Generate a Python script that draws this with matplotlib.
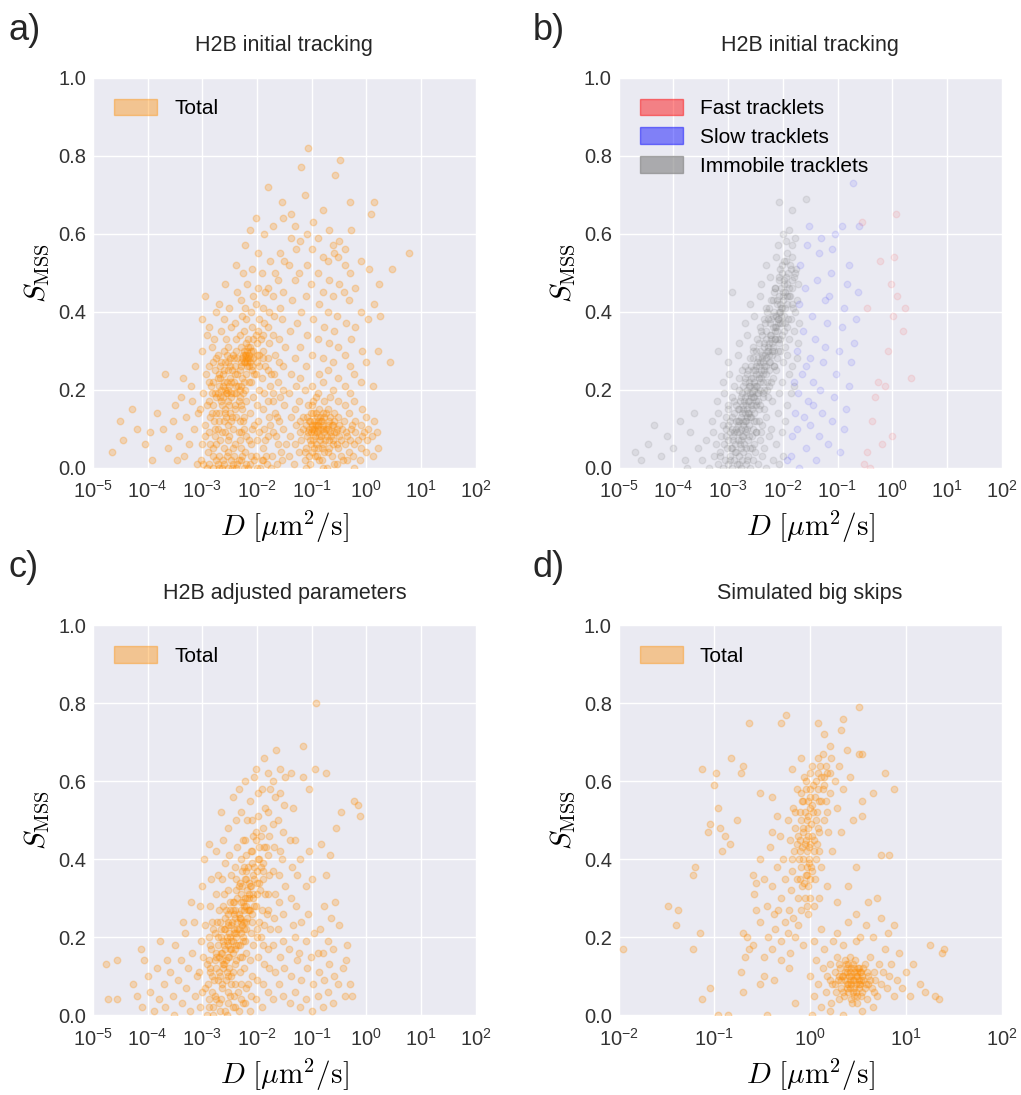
import matplotlib
matplotlib.use("Agg")
import numpy as np
import matplotlib.pyplot as plt
import matplotlib.patches as mpatches
from matplotlib.ticker import FixedLocator, FuncFormatter, NullLocator


# a) H2B initial tracking: (D [um^2/s], S_MSS)
a_total = [
    # left tail
    (2.2e-5, 0.04), (3.1e-5, 0.12), (3.6e-5, 0.07), (5.2e-5, 0.15), (6.3e-5, 0.10), (8.8e-5, 0.06),
    (1.2e-4, 0.02), (1.5e-4, 0.14), (1.9e-4, 0.10), (2.4e-4, 0.05), (2.1e-4, 0.24), (2.9e-4, 0.12),
    (3.4e-4, 0.02), (4.1e-4, 0.18), (3.8e-4, 0.08), (5.1e-4, 0.13), (4.7e-4, 0.03), (6.2e-4, 0.21),
    (5.8e-4, 0.06), (7.1e-4, 0.10), (6.6e-4, 0.17), (7.9e-4, 0.01), (8.4e-4, 0.14), (4.4e-4, 0.23),
    (3.2e-4, 0.16), (1.1e-4, 0.09), (7.5e-4, 0.26),
    # slow cluster
    (9.5e-4, 0.02), (1.0e-3, 0.06), (1.1e-3, 0.11), (9.2e-4, 0.15), (1.05e-3, 0.19), (1.15e-3, 0.24),
    (9.8e-4, 0.30), (1.2e-3, 0.34), (1.0e-3, 0.38), (1.1e-3, 0.44),
    (1.3e-3, 0.01), (1.25e-3, 0.04), (1.35e-3, 0.09), (1.4e-3, 0.13), (1.3e-3, 0.17), (1.45e-3, 0.21),
    (1.35e-3, 0.26), (1.5e-3, 0.31), (1.3e-3, 0.36),
    (1.6e-3, 0.00), (1.55e-3, 0.05), (1.7e-3, 0.08), (1.65e-3, 0.12), (1.6e-3, 0.16), (1.75e-3, 0.18),
    (1.6e-3, 0.22), (1.7e-3, 0.25), (1.8e-3, 0.28), (1.65e-3, 0.33), (1.75e-3, 0.40),
    (1.9e-3, 0.01), (2.0e-3, 0.03), (2.1e-3, 0.07), (1.95e-3, 0.10), (2.05e-3, 0.14), (2.2e-3, 0.17),
    (1.9e-3, 0.19), (2.0e-3, 0.21), (2.15e-3, 0.23), (2.1e-3, 0.26), (1.95e-3, 0.29), (2.2e-3, 0.35),
    (2.0e-3, 0.42),
    (2.4e-3, 0.02), (2.5e-3, 0.05), (2.6e-3, 0.09), (2.45e-3, 0.12), (2.55e-3, 0.15), (2.4e-3, 0.18),
    (2.65e-3, 0.20), (2.5e-3, 0.22), (2.35e-3, 0.24), (2.6e-3, 0.27), (2.5e-3, 0.30), (2.7e-3, 0.33),
    (2.45e-3, 0.38), (2.6e-3, 0.47),
    (2.9e-3, 0.00), (3.0e-3, 0.04), (3.1e-3, 0.08), (2.95e-3, 0.11), (3.2e-3, 0.14), (3.0e-3, 0.17),
    (2.85e-3, 0.19), (3.1e-3, 0.21), (3.25e-3, 0.23), (3.0e-3, 0.25), (3.15e-3, 0.28), (2.9e-3, 0.31),
    (3.3e-3, 0.36), (3.05e-3, 0.41),
    (3.6e-3, 0.01), (3.8e-3, 0.03), (4.0e-3, 0.06), (3.7e-3, 0.10), (4.2e-3, 0.13), (3.9e-3, 0.16),
    (4.1e-3, 0.19), (3.75e-3, 0.22), (4.3e-3, 0.24), (4.0e-3, 0.26), (3.85e-3, 0.28), (4.2e-3, 0.30),
    (4.05e-3, 0.33), (3.9e-3, 0.37), (4.4e-3, 0.45), (4.1e-3, 0.52),
    (4.7e-3, 0.02), (5.0e-3, 0.05), (5.2e-3, 0.09), (4.8e-3, 0.12), (5.3e-3, 0.15), (4.9e-3, 0.18),
    (5.1e-3, 0.21), (5.4e-3, 0.23), (4.8e-3, 0.25), (5.0e-3, 0.27), (5.5e-3, 0.29), (5.2e-3, 0.31),
    (4.9e-3, 0.34), (5.3e-3, 0.39), (5.0e-3, 0.43), (5.6e-3, 0.50),
    (5.8e-3, 0.00), (6.0e-3, 0.04), (6.3e-3, 0.08), (5.9e-3, 0.13), (6.4e-3, 0.17), (6.1e-3, 0.20),
    (5.8e-3, 0.22), (6.5e-3, 0.26), (6.2e-3, 0.28), (6.0e-3, 0.29), (6.6e-3, 0.30), (6.3e-3, 0.32),
    (5.9e-3, 0.35), (6.4e-3, 0.38), (6.1e-3, 0.41), (6.5e-3, 0.47), (6.0e-3, 0.57),
    (7.3e-3, 0.01), (7.8e-3, 0.06), (8.2e-3, 0.10), (7.5e-3, 0.14), (8.4e-3, 0.18), (7.9e-3, 0.22),
    (8.1e-3, 0.25), (7.6e-3, 0.27), (8.3e-3, 0.28), (7.8e-3, 0.30), (8.6e-3, 0.33), (8.0e-3, 0.36),
    (7.7e-3, 0.40), (8.5e-3, 0.44), (8.1e-3, 0.51), (7.4e-3, 0.61),
    (9.5e-3, 0.03), (1.0e-2, 0.07), (1.05e-2, 0.12), (9.8e-3, 0.16), (1.1e-2, 0.20), (9.6e-3, 0.24),
    (1.02e-2, 0.27), (1.08e-2, 0.29), (9.9e-3, 0.32), (1.04e-2, 0.35), (1.1e-2, 0.38), (9.7e-3, 0.42),
    (1.03e-2, 0.46), (1.06e-2, 0.55), (9.4e-3, 0.64),
    (1.25e-2, 0.02), (1.3e-2, 0.05), (1.35e-2, 0.10), (1.28e-2, 0.15), (1.32e-2, 0.19), (1.24e-2, 0.23),
    (1.38e-2, 0.26), (1.3e-2, 0.30), (1.27e-2, 0.34), (1.36e-2, 0.37), (1.31e-2, 0.41), (1.4e-2, 0.45),
    (1.26e-2, 0.50), (1.33e-2, 0.60),
    (1.55e-2, 0.01), (1.6e-2, 0.08), (1.65e-2, 0.13), (1.58e-2, 0.17), (1.7e-2, 0.21), (1.62e-2, 0.25),
    (1.56e-2, 0.28), (1.68e-2, 0.32), (1.6e-2, 0.36), (1.66e-2, 0.40), (1.59e-2, 0.46), (1.7e-2, 0.53),
    (1.6e-2, 0.72),
    (1.9e-2, 0.03), (2.0e-2, 0.09), (2.1e-2, 0.14), (1.95e-2, 0.19), (2.05e-2, 0.24), (2.15e-2, 0.29),
    (1.98e-2, 0.34), (2.08e-2, 0.39), (2.0e-2, 0.44), (2.12e-2, 0.50), (1.96e-2, 0.62),
    (2.4e-2, 0.06), (2.5e-2, 0.12), (2.6e-2, 0.18), (2.45e-2, 0.22), (2.55e-2, 0.27), (2.5e-2, 0.33),
    (2.65e-2, 0.41), (2.4e-2, 0.48), (2.58e-2, 0.55),
    (2.9e-2, 0.02), (3.0e-2, 0.10), (3.1e-2, 0.16), (2.95e-2, 0.20), (3.05e-2, 0.26), (3.2e-2, 0.31),
    (2.9e-2, 0.38), (3.0e-2, 0.45), (3.15e-2, 0.53), (3.0e-2, 0.64), (2.85e-2, 0.68),
    (2.2e-3, 0.20), (2.8e-3, 0.22), (3.4e-3, 0.19), (4.5e-3, 0.21), (5.7e-3, 0.27), (7.0e-3, 0.29),
    (6.8e-3, 0.28), (7.2e-3, 0.26), (6.9e-3, 0.31), (3.5e-3, 0.25), (2.3e-3, 0.16), (1.8e-3, 0.14),
    (1.5e-3, 0.19), (2.7e-3, 0.13), (3.3e-3, 0.12), (4.6e-3, 0.17), (5.5e-3, 0.19), (2.0e-3, 0.24),
    (2.9e-3, 0.27), (1.7e-3, 0.10),
    (1.2e-3, 0.00), (1.8e-3, 0.02), (2.3e-3, 0.00), (2.8e-3, 0.03), (3.5e-3, 0.00), (4.4e-3, 0.01),
    (5.4e-3, 0.03), (6.8e-3, 0.00), (8.8e-3, 0.02), (1.15e-2, 0.00), (1.45e-2, 0.03), (1.8e-2, 0.00),
    (2.3e-2, 0.01),
    (1.1e-3, 0.08), (1.2e-3, 0.16), (1.3e-3, 0.22), (1.4e-3, 0.06), (1.5e-3, 0.14), (1.6e-3, 0.27),
    (1.7e-3, 0.19), (1.8e-3, 0.06), (1.9e-3, 0.23), (2.0e-3, 0.12), (2.1e-3, 0.18), (2.2e-3, 0.27),
    (2.3e-3, 0.09), (2.4e-3, 0.21), (2.5e-3, 0.25), (2.6e-3, 0.14), (2.7e-3, 0.19), (2.8e-3, 0.29),
    (2.9e-3, 0.07), (3.0e-3, 0.20), (3.1e-3, 0.16), (3.2e-3, 0.26), (3.3e-3, 0.18), (3.4e-3, 0.22),
    (3.5e-3, 0.13), (3.6e-3, 0.29), (3.7e-3, 0.05), (3.8e-3, 0.19), (3.9e-3, 0.24), (4.0e-3, 0.15),
    (4.2e-3, 0.21), (4.4e-3, 0.28), (4.6e-3, 0.09), (4.8e-3, 0.20), (5.0e-3, 0.16), (5.2e-3, 0.26),
    (5.4e-3, 0.28), (5.6e-3, 0.12), (5.8e-3, 0.30), (6.0e-3, 0.27), (6.2e-3, 0.24), (6.4e-3, 0.29),
    (6.6e-3, 0.27), (6.8e-3, 0.33), (7.0e-3, 0.22), (7.3e-3, 0.28), (7.6e-3, 0.31), (8.0e-3, 0.26),
    (8.5e-3, 0.30), (9.0e-3, 0.24), (9.5e-3, 0.34), (1.0e-2, 0.29), (1.1e-2, 0.26), (1.2e-2, 0.33),
    (1.3e-2, 0.28), (2.5e-3, 0.01), (3.3e-3, 0.02), (4.1e-3, 0.00), (5.1e-3, 0.02), (6.2e-3, 0.01),
    (7.9e-3, 0.03), (9.8e-3, 0.00), (1.3e-2, 0.02), (1.6e-3, 0.03), (2.0e-3, 0.00), (1.05e-3, 0.01),
    (4.8e-3, 0.07), (5.9e-3, 0.10), (7.1e-3, 0.07), (8.9e-3, 0.11), (1.1e-2, 0.09), (1.4e-2, 0.07),
    (1.7e-2, 0.11), (2.2e-2, 0.08), (2.7e-2, 0.04), (3.4e-2, 0.06), (2.0e-2, 0.17), (2.3e-2, 0.13),
    (1.8e-2, 0.24),
    # fast cluster
    (3.8e-2, 0.03), (4.0e-2, 0.08), (4.2e-2, 0.13), (3.9e-2, 0.19), (4.1e-2, 0.24),
    (4.8e-2, 0.01), (5.0e-2, 0.06), (5.2e-2, 0.11), (4.9e-2, 0.15), (5.1e-2, 0.21),
    (5.8e-2, 0.04), (6.0e-2, 0.09), (6.2e-2, 0.12), (5.9e-2, 0.17), (6.1e-2, 0.23),
    (7.6e-2, 0.02), (7.8e-2, 0.05), (8.2e-2, 0.08), (7.9e-2, 0.11), (8.1e-2, 0.13), (8.4e-2, 0.16),
    (7.7e-2, 0.20),
    (9.5e-2, 0.01), (1.0e-1, 0.04), (1.05e-1, 0.07), (9.8e-2, 0.09), (1.02e-1, 0.11), (1.08e-1, 0.12),
    (9.6e-2, 0.14), (1.04e-1, 0.17), (1.0e-1, 0.21),
    (1.25e-1, 0.03), (1.3e-1, 0.05), (1.35e-1, 0.08), (1.28e-1, 0.10), (1.32e-1, 0.12), (1.26e-1, 0.13),
    (1.38e-1, 0.15), (1.3e-1, 0.19), (1.36e-1, 0.24),
    (1.55e-1, 0.02), (1.6e-1, 0.06), (1.65e-1, 0.09), (1.58e-1, 0.11), (1.62e-1, 0.14), (1.68e-1, 0.17),
    (1.6e-1, 0.22),
    (1.9e-1, 0.00), (2.0e-1, 0.04), (2.1e-1, 0.07), (1.95e-1, 0.10), (2.05e-1, 0.12), (2.0e-1, 0.15),
    (2.12e-1, 0.18),
    (2.4e-1, 0.03), (2.5e-1, 0.06), (2.6e-1, 0.09), (2.45e-1, 0.11), (2.55e-1, 0.14), (2.5e-1, 0.20),
    (2.9e-1, 0.01), (3.0e-1, 0.05), (3.1e-1, 0.08), (2.95e-1, 0.10), (3.05e-1, 0.13), (3.0e-1, 0.17),
    (3.8e-1, 0.02), (4.0e-1, 0.06), (4.2e-1, 0.09), (3.9e-1, 0.12), (4.1e-1, 0.16), (4.0e-1, 0.21),
    (4.8e-1, 0.04), (5.0e-1, 0.07), (5.2e-1, 0.10), (4.9e-1, 0.14), (5.1e-1, 0.19),
    (5.8e-1, 0.03), (6.0e-1, 0.06), (6.3e-1, 0.09), (6.1e-1, 0.12), (5.9e-1, 0.17),
    (7.8e-1, 0.02), (8.0e-1, 0.05), (8.3e-1, 0.08), (7.9e-1, 0.11), (8.2e-1, 0.15),
    (9.8e-1, 0.04), (1.02, 0.07), (1.05, 0.10), (1.0, 0.13), (1.3, 0.03), (1.25, 0.08), (1.35, 0.12),
    (1.6, 0.05), (1.55, 0.09),
    (9.0e-2, 0.10), (1.1e-1, 0.10), (1.15e-1, 0.08), (1.2e-1, 0.11), (1.4e-1, 0.07), (1.45e-1, 0.12),
    (8.8e-2, 0.12), (1.18e-1, 0.14), (1.7e-1, 0.04), (7.0e-2, 0.10), (2.2e-1, 0.09), (1.1e-1, 0.05),
    (9.2e-2, 0.07), (1.5e-1, 0.10),
    (6.5e-2, 0.07), (7.0e-2, 0.13), (7.4e-2, 0.04), (8.6e-2, 0.09), (9.0e-2, 0.03), (9.4e-2, 0.12),
    (9.9e-2, 0.06), (1.03e-1, 0.10), (1.07e-1, 0.14), (1.12e-1, 0.09), (1.16e-1, 0.11), (1.22e-1, 0.06),
    (1.27e-1, 0.09), (1.33e-1, 0.11), (1.4e-1, 0.13), (1.48e-1, 0.08), (1.52e-1, 0.05), (1.57e-1, 0.12),
    (1.63e-1, 0.10), (1.7e-1, 0.13), (1.75e-1, 0.07), (1.8e-1, 0.10), (1.85e-1, 0.14), (1.92e-1, 0.08),
    (2.0e-1, 0.11), (2.1e-1, 0.05), (2.2e-1, 0.13), (2.3e-1, 0.08), (2.35e-1, 0.11), (2.45e-1, 0.07),
    (2.6e-1, 0.12), (2.75e-1, 0.09), (2.85e-1, 0.06), (3.2e-1, 0.11), (3.4e-1, 0.07), (3.6e-1, 0.10),
    (4.5e-1, 0.08), (5.5e-1, 0.11), (7.0e-1, 0.07), (9.0e-1, 0.09), (1.15e-1, 0.03), (1.35e-1, 0.02),
    (1.6e-1, 0.00), (8.0e-2, 0.00), (2.6e-1, 0.01), (3.5e-1, 0.03), (4.5e-1, 0.02), (6.0e-1, 0.00),
    (1.0e-1, 0.16), (1.2e-1, 0.18),
    # upper diffuse part
    (4.0e-2, 0.35), (4.3e-2, 0.43), (3.9e-2, 0.52), (4.1e-2, 0.59), (4.2e-2, 0.65), (5.0e-2, 0.28),
    (5.3e-2, 0.37), (4.9e-2, 0.48), (5.1e-2, 0.56), (5.0e-2, 0.62), (6.0e-2, 0.31), (6.3e-2, 0.40),
    (5.9e-2, 0.50), (6.1e-2, 0.58), (8.0e-2, 0.26), (8.3e-2, 0.34), (7.8e-2, 0.44), (8.1e-2, 0.52),
    (8.2e-2, 0.60), (7.5e-2, 0.70), (6.5e-2, 0.77), (1.0e-1, 0.29), (1.04e-1, 0.38), (9.7e-2, 0.47),
    (1.02e-1, 0.56), (1.06e-1, 0.63), (8.5e-2, 0.82), (1.3e-1, 0.33), (1.35e-1, 0.42), (1.28e-1, 0.50),
    (1.32e-1, 0.59), (1.6e-1, 0.28), (1.65e-1, 0.36), (1.58e-1, 0.45), (1.62e-1, 0.54), (1.6e-1, 0.66),
    (2.0e-1, 0.25), (2.05e-1, 0.32), (1.97e-1, 0.40), (2.1e-1, 0.48), (2.0e-1, 0.53), (2.03e-1, 0.61),
    (2.5e-1, 0.27), (2.55e-1, 0.35), (2.45e-1, 0.44), (2.6e-1, 0.55), (2.5e-1, 0.57), (2.7e-1, 0.75),
    (3.0e-1, 0.23), (3.05e-1, 0.31), (2.95e-1, 0.39), (3.1e-1, 0.47), (3.0e-1, 0.54), (3.2e-1, 0.58),
    (3.3e-1, 0.79), (4.0e-1, 0.29), (4.2e-1, 0.37), (3.9e-1, 0.45), (4.1e-1, 0.52), (4.0e-1, 0.56),
    (5.0e-1, 0.26), (5.2e-1, 0.33), (4.9e-1, 0.43), (5.1e-1, 0.50), (5.3e-1, 0.61), (5.0e-1, 0.68),
    (6.0e-1, 0.24), (6.2e-1, 0.36), (6.1e-1, 0.46), (8.0e-1, 0.22), (8.2e-1, 0.30), (7.9e-1, 0.40),
    (8.1e-1, 0.53), (1.0, 0.27), (1.05, 0.38), (1.1, 0.51), (1.2, 0.65), (1.3, 0.21), (1.4, 0.42),
    (1.35, 0.68), (1.6, 0.30), (1.7, 0.47), (2.7, 0.27), (2.9, 0.51), (6.0, 0.55), (1.8, 0.39),
]

# b) H2B initial tracking split by class
b_immobile = [
    (3.3e-4, 0.02), (4.5e-4, 0.00), (5.5e-4, 0.03), (6.5e-4, 0.01), (7.2e-4, 0.04), (8.0e-4, 0.00),
    (8.8e-4, 0.02), (9.5e-4, 0.05), (1.0e-3, 0.01), (1.1e-3, 0.03), (1.2e-3, 0.00), (1.3e-3, 0.02),
    (1.35e-3, 0.04), (1.45e-3, 0.01), (1.55e-3, 0.03), (1.7e-3, 0.00), (1.8e-3, 0.02), (1.9e-3, 0.04),
    (2.1e-3, 0.01), (2.3e-3, 0.03), (2.5e-3, 0.00), (2.8e-3, 0.02), (3.1e-3, 0.04), (3.5e-3, 0.01),
    (4.2e-3, 0.03), (5.0e-3, 0.00), (6.5e-3, 0.02), (8.5e-3, 0.01), (1.0e-2, 0.03),
    (4.0e-4, 0.07), (5.2e-4, 0.09), (6.0e-4, 0.06), (7.5e-4, 0.08), (8.5e-4, 0.06), (9.2e-4, 0.10),
    (1.0e-3, 0.07), (1.1e-3, 0.09), (1.15e-3, 0.05), (1.25e-3, 0.08), (1.35e-3, 0.06), (1.4e-3, 0.10),
    (1.5e-3, 0.07), (1.6e-3, 0.09), (1.7e-3, 0.05), (1.8e-3, 0.08), (1.95e-3, 0.06), (2.1e-3, 0.09),
    (2.3e-3, 0.07), (2.5e-3, 0.05), (2.7e-3, 0.08), (3.0e-3, 0.06), (3.3e-3, 0.09), (3.8e-3, 0.07),
    (4.5e-3, 0.05), (5.5e-3, 0.08), (7.5e-3, 0.06), (9.5e-3, 0.09),
    (5.0e-4, 0.12), (6.5e-4, 0.14), (8.0e-4, 0.11), (9.0e-4, 0.13), (1.0e-3, 0.15), (1.1e-3, 0.12),
    (1.2e-3, 0.10), (1.3e-3, 0.14), (1.4e-3, 0.12), (1.5e-3, 0.11), (1.6e-3, 0.15), (1.7e-3, 0.13),
    (1.85e-3, 0.11), (2.0e-3, 0.14), (2.1e-3, 0.12), (2.25e-3, 0.15), (2.4e-3, 0.11), (2.6e-3, 0.13),
    (2.8e-3, 0.10), (3.0e-3, 0.14), (3.3e-3, 0.12), (3.7e-3, 0.15), (4.2e-3, 0.11), (5.0e-3, 0.13),
    (6.0e-3, 0.10), (8.0e-3, 0.14), (1.1e-2, 0.12),
    (6.3e-4, 0.17), (8.5e-4, 0.19), (1.0e-3, 0.16), (1.2e-3, 0.18), (1.4e-3, 0.16), (1.55e-3, 0.20),
    (1.65e-3, 0.17), (1.8e-3, 0.19), (1.9e-3, 0.16), (2.0e-3, 0.18), (2.2e-3, 0.20), (2.35e-3, 0.17),
    (2.5e-3, 0.19), (2.65e-3, 0.16), (2.8e-3, 0.18), (3.0e-3, 0.20), (3.2e-3, 0.17), (3.5e-3, 0.19),
    (3.9e-3, 0.16), (4.4e-3, 0.18), (5.2e-3, 0.20), (6.3e-3, 0.17), (8.5e-3, 0.19), (1.2e-2, 0.16),
    (1.4e-2, 0.19),
    (7.9e-4, 0.22), (1.05e-3, 0.24), (1.3e-3, 0.21), (1.6e-3, 0.23), (1.8e-3, 0.25), (2.0e-3, 0.22),
    (2.2e-3, 0.24), (2.4e-3, 0.21), (2.6e-3, 0.23), (2.8e-3, 0.25), (3.0e-3, 0.22), (3.2e-3, 0.24),
    (3.4e-3, 0.21), (3.7e-3, 0.23), (4.0e-3, 0.25), (4.4e-3, 0.22), (4.9e-3, 0.24), (5.5e-3, 0.21),
    (6.5e-3, 0.23), (7.6e-3, 0.25), (9.5e-3, 0.22), (1.3e-2, 0.24), (1.6e-2, 0.21),
    (1.0e-3, 0.27), (1.5e-3, 0.29), (2.0e-3, 0.26), (2.5e-3, 0.28), (2.9e-3, 0.30), (3.2e-3, 0.26),
    (3.5e-3, 0.28), (3.8e-3, 0.27), (4.1e-3, 0.29), (4.5e-3, 0.26), (4.9e-3, 0.28), (5.4e-3, 0.30),
    (5.9e-3, 0.27), (6.4e-3, 0.29), (7.0e-3, 0.26), (7.8e-3, 0.28), (8.8e-3, 0.30), (1.0e-2, 0.27),
    (1.2e-2, 0.29), (1.5e-2, 0.26), (1.8e-2, 0.28),
    (1.6e-3, 0.32), (2.2e-3, 0.34), (2.8e-3, 0.31), (3.4e-3, 0.33), (4.0e-3, 0.35), (4.5e-3, 0.31),
    (5.0e-3, 0.33), (5.5e-3, 0.32), (6.0e-3, 0.34), (6.6e-3, 0.31), (7.2e-3, 0.33), (7.9e-3, 0.35),
    (8.6e-3, 0.32), (9.5e-3, 0.34), (1.1e-2, 0.31), (1.3e-2, 0.33), (1.6e-2, 0.35), (1.9e-2, 0.32),
    (2.0e-3, 0.37), (3.0e-3, 0.39), (3.8e-3, 0.36), (4.5e-3, 0.38), (5.2e-3, 0.40), (5.8e-3, 0.37),
    (6.5e-3, 0.39), (7.2e-3, 0.36), (8.0e-3, 0.38), (8.8e-3, 0.40), (9.6e-3, 0.37), (1.05e-2, 0.39),
    (1.2e-2, 0.36), (1.4e-2, 0.38), (1.7e-2, 0.40), (1.95e-2, 0.37),
    (2.5e-3, 0.42), (3.8e-3, 0.44), (5.0e-3, 0.41), (6.0e-3, 0.43), (7.0e-3, 0.45), (7.8e-3, 0.42),
    (8.6e-3, 0.44), (9.4e-3, 0.41), (1.02e-2, 0.43), (1.1e-2, 0.45), (1.2e-2, 0.42), (1.35e-2, 0.44),
    (1.55e-2, 0.41), (1.8e-2, 0.43),
    (4.0e-3, 0.47), (5.8e-3, 0.49), (7.2e-3, 0.46), (8.5e-3, 0.48), (9.5e-3, 0.50), (1.05e-2, 0.47),
    (1.15e-2, 0.49), (1.3e-2, 0.46), (1.45e-2, 0.48), (1.7e-2, 0.50), (1.9e-2, 0.47),
    (5.0e-3, 0.52), (7.5e-3, 0.54), (9.0e-3, 0.51), (1.05e-2, 0.53), (1.2e-2, 0.55), (1.35e-2, 0.52),
    (1.5e-2, 0.54), (1.75e-2, 0.51),
    (8.0e-3, 0.57), (1.0e-2, 0.60), (1.15e-2, 0.58), (1.3e-2, 0.61), (1.5e-2, 0.57), (1.7e-2, 0.59),
    (2.0e-5, 0.04), (2.6e-5, 0.02), (3.5e-5, 0.06), (4.5e-5, 0.11), (6.0e-5, 0.03), (7.5e-5, 0.08),
    (1.0e-4, 0.05), (1.3e-4, 0.12), (1.6e-4, 0.02), (2.0e-4, 0.09), (2.4e-4, 0.14), (2.8e-4, 0.05),
    (1.8e-4, 0.00),
    (1.2e-3, 0.45), (6.5e-4, 0.30), (8.5e-3, 0.68), (1.5e-2, 0.66), (2.7e-2, 0.69),
    (1.5e-3, 0.12), (1.9e-3, 0.15), (2.2e-3, 0.13), (2.6e-3, 0.18), (3.0e-3, 0.21), (3.6e-3, 0.24),
    (4.3e-3, 0.27), (5.2e-3, 0.30), (6.2e-3, 0.33), (7.4e-3, 0.36), (8.4e-3, 0.40), (1.0e-2, 0.45),
    (2.4e-3, 0.22), (2.0e-3, 0.10), (1.7e-3, 0.07), (1.2e-3, 0.05), (4.6e-3, 0.20), (5.6e-3, 0.25),
    (3.3e-3, 0.16), (6.8e-3, 0.30), (8.0e-3, 0.33), (9.0e-3, 0.37),
    (7.0e-4, 0.03), (9.0e-4, 0.08), (1.0e-3, 0.11), (1.1e-3, 0.02), (1.2e-3, 0.13), (1.25e-3, 0.07),
    (1.3e-3, 0.17), (1.4e-3, 0.04), (1.45e-3, 0.09), (1.5e-3, 0.15), (1.6e-3, 0.12), (1.65e-3, 0.06),
    (1.7e-3, 0.18), (1.75e-3, 0.10), (1.8e-3, 0.14), (1.85e-3, 0.21), (1.9e-3, 0.08), (1.95e-3, 0.17),
    (2.0e-3, 0.12), (2.05e-3, 0.23), (2.1e-3, 0.16), (2.15e-3, 0.05), (2.2e-3, 0.10), (2.25e-3, 0.19),
    (2.3e-3, 0.14), (2.35e-3, 0.25), (2.4e-3, 0.17), (2.45e-3, 0.08), (2.5e-3, 0.21), (2.55e-3, 0.13),
    (2.6e-3, 0.26), (2.7e-3, 0.19), (2.75e-3, 0.15), (2.8e-3, 0.23), (2.9e-3, 0.28), (2.95e-3, 0.12),
    (3.0e-3, 0.18), (3.1e-3, 0.25), (3.2e-3, 0.30), (3.3e-3, 0.21), (3.4e-3, 0.27), (3.5e-3, 0.17),
    (3.6e-3, 0.32), (3.7e-3, 0.26), (3.8e-3, 0.20), (3.9e-3, 0.30), (4.0e-3, 0.23), (4.1e-3, 0.34),
    (4.2e-3, 0.28), (4.3e-3, 0.19), (4.5e-3, 0.32), (4.6e-3, 0.25), (4.7e-3, 0.37), (4.8e-3, 0.29),
    (5.0e-3, 0.35), (5.1e-3, 0.22), (5.3e-3, 0.38), (5.4e-3, 0.31), (5.6e-3, 0.27), (5.7e-3, 0.41),
    (5.9e-3, 0.34), (6.1e-3, 0.38), (6.3e-3, 0.30), (6.5e-3, 0.43), (6.7e-3, 0.36), (6.9e-3, 0.40),
    (7.1e-3, 0.33), (7.3e-3, 0.46), (7.6e-3, 0.39), (7.9e-3, 0.43), (8.2e-3, 0.37), (8.5e-3, 0.49),
    (8.8e-3, 0.42), (9.1e-3, 0.46), (9.4e-3, 0.39), (9.8e-3, 0.52), (1.02e-2, 0.44), (1.06e-2, 0.48),
    (1.1e-2, 0.41), (1.15e-2, 0.53), (1.2e-2, 0.47), (1.25e-2, 0.50), (1.3e-2, 0.44), (1.4e-2, 0.51),
    (1.5e-2, 0.46), (1.6e-2, 0.49), (2.2e-3, 0.02), (2.7e-3, 0.05), (3.2e-3, 0.09), (3.6e-3, 0.12),
    (4.0e-3, 0.09), (4.6e-3, 0.15), (5.3e-3, 0.18), (6.0e-3, 0.22), (7.0e-3, 0.26), (8.0e-3, 0.30),
    (9.0e-3, 0.33), (1.05e-2, 0.35), (1.25e-2, 0.38), (1.45e-2, 0.42), (1.3e-3, 0.09), (1.6e-3, 0.01),
    (1.9e-3, 0.12), (2.4e-3, 0.14), (2.9e-3, 0.16), (3.4e-3, 0.19), (3.9e-3, 0.22), (4.4e-3, 0.24),
    (5.0e-3, 0.26), (5.6e-3, 0.29), (6.4e-3, 0.32), (7.2e-3, 0.35), (8.3e-3, 0.38), (9.5e-3, 0.41),
    (1.1e-2, 0.37), (1.2e-2, 0.44),
]

b_slow = [
    (1.2e-2, 0.02), (1.5e-2, 0.08), (1.7e-2, 0.14), (1.9e-2, 0.19), (2.2e-2, 0.24), (1.8e-2, 0.30),
    (2.3e-2, 0.35), (2.0e-2, 0.42), (2.5e-2, 0.46), (2.1e-2, 0.52), (2.8e-2, 0.57), (3.0e-2, 0.62),
    (2.6e-2, 0.05), (3.2e-2, 0.11), (2.9e-2, 0.17), (3.5e-2, 0.22), (3.1e-2, 0.28), (3.8e-2, 0.33),
    (3.4e-2, 0.39), (4.2e-2, 0.48), (4.5e-2, 0.55), (5.0e-2, 0.59), (4.0e-2, 0.02), (4.6e-2, 0.08),
    (5.2e-2, 0.14), (4.8e-2, 0.20), (5.5e-2, 0.27), (6.0e-2, 0.31), (6.5e-2, 0.37), (7.0e-2, 0.44),
    (7.5e-2, 0.50), (8.0e-2, 0.56), (9.0e-2, 0.60), (1.2e-1, 0.62), (1.9e-1, 0.73), (2.5e-1, 0.62),
    (6.8e-2, 0.06), (7.8e-2, 0.12), (8.5e-2, 0.18), (9.5e-2, 0.24), (1.05e-1, 0.30), (1.2e-1, 0.36),
    (1.3e-1, 0.41), (1.5e-1, 0.47), (1.6e-1, 0.52), (1.1e-1, 0.04), (1.3e-1, 0.10), (1.45e-1, 0.15),
    (1.6e-1, 0.21), (1.8e-1, 0.27), (2.0e-1, 0.32), (2.2e-1, 0.38), (2.4e-1, 0.45), (1.8e-2, 0.10),
    (1.6e-2, 0.22), (2.4e-2, 0.13), (2.7e-2, 0.26), (3.6e-2, 0.16), (1.4e-2, 0.03), (2.0e-2, 0.00),
    (5.8e-2, 0.43),
]

b_fast = [
    (3.0e-1, 0.01), (3.5e-1, 0.04), (4.2e-1, 0.12), (4.8e-1, 0.18), (5.5e-1, 0.22), (6.0e-1, 0.53),
    (6.5e-1, 0.06), (7.5e-1, 0.21), (8.5e-1, 0.30), (9.5e-1, 0.47), (1.0, 0.08), (1.05, 0.39),
    (1.1, 0.54), (1.15, 0.65), (1.2, 0.44), (1.6, 0.35), (1.7, 0.41), (2.2, 0.23), (3.5e-1, 0.41),
    (2.8e-1, 0.63), (4.0e-1, 0.00),
]

# c) H2B adjusted parameters
c_total = [
    (1.7e-5, 0.13), (2.8e-5, 0.14), (1.9e-5, 0.04), (2.7e-5, 0.04), (5.5e-5, 0.08), (6.5e-5, 0.05),
    (7.5e-5, 0.17), (8.5e-5, 0.14), (8.0e-5, 0.02), (1.0e-4, 0.10), (1.1e-4, 0.06), (1.3e-4, 0.01),
    (1.5e-4, 0.12), (1.7e-4, 0.19), (1.6e-4, 0.04), (2.0e-4, 0.08), (2.3e-4, 0.14), (2.1e-4, 0.02),
    (2.6e-4, 0.11), (2.9e-4, 0.05), (3.2e-4, 0.18), (3.0e-4, 0.00), (3.6e-4, 0.09), (4.0e-4, 0.14),
    (4.3e-4, 0.03), (4.8e-4, 0.21), (5.0e-4, 0.07), (5.5e-4, 0.12), (6.0e-4, 0.01), (6.5e-4, 0.16),
    (7.0e-4, 0.24), (7.5e-4, 0.05), (8.0e-4, 0.10), (6.2e-4, 0.29), (4.5e-4, 0.24),
    (9.0e-4, 0.02), (1.0e-3, 0.06), (8.8e-4, 0.11), (1.05e-3, 0.15), (9.5e-4, 0.19), (1.1e-3, 0.23),
    (9.2e-4, 0.28), (1.0e-3, 0.33), (1.08e-3, 0.40),
    (1.2e-3, 0.00), (1.3e-3, 0.04), (1.25e-3, 0.08), (1.4e-3, 0.11), (1.35e-3, 0.14), (1.45e-3, 0.17),
    (1.3e-3, 0.20), (1.5e-3, 0.24), (1.38e-3, 0.28), (1.42e-3, 0.35), (1.3e-3, 0.44),
    (1.6e-3, 0.02), (1.7e-3, 0.05), (1.65e-3, 0.09), (1.8e-3, 0.12), (1.75e-3, 0.15), (1.9e-3, 0.18),
    (1.7e-3, 0.21), (1.85e-3, 0.24), (2.0e-3, 0.27), (1.8e-3, 0.31), (1.95e-3, 0.36), (1.75e-3, 0.42),
    (2.1e-3, 0.01), (2.2e-3, 0.04), (2.3e-3, 0.07), (2.15e-3, 0.10), (2.4e-3, 0.13), (2.3e-3, 0.16),
    (2.5e-3, 0.18), (2.2e-3, 0.20), (2.45e-3, 0.22), (2.6e-3, 0.25), (2.35e-3, 0.28), (2.5e-3, 0.31),
    (2.3e-3, 0.35), (2.55e-3, 0.39), (2.4e-3, 0.45), (2.2e-3, 0.52),
    (2.8e-3, 0.00), (2.9e-3, 0.03), (3.0e-3, 0.06), (2.75e-3, 0.09), (3.1e-3, 0.12), (2.95e-3, 0.15),
    (3.2e-3, 0.17), (2.85e-3, 0.19), (3.05e-3, 0.21), (3.3e-3, 0.23), (3.0e-3, 0.26), (3.2e-3, 0.29),
    (2.9e-3, 0.32), (3.35e-3, 0.36), (3.1e-3, 0.41), (3.0e-3, 0.48),
    (3.6e-3, 0.02), (3.8e-3, 0.05), (4.0e-3, 0.08), (3.7e-3, 0.11), (4.2e-3, 0.14), (3.9e-3, 0.17),
    (4.1e-3, 0.20), (3.75e-3, 0.22), (4.3e-3, 0.24), (4.0e-3, 0.27), (3.85e-3, 0.29), (4.2e-3, 0.32),
    (4.05e-3, 0.35), (3.9e-3, 0.38), (4.4e-3, 0.43), (4.1e-3, 0.50), (3.7e-3, 0.56),
    (4.7e-3, 0.01), (5.0e-3, 0.04), (5.2e-3, 0.08), (4.8e-3, 0.11), (5.3e-3, 0.15), (4.9e-3, 0.18),
    (5.1e-3, 0.21), (5.4e-3, 0.23), (4.8e-3, 0.25), (5.0e-3, 0.27), (5.5e-3, 0.29), (5.2e-3, 0.31),
    (4.9e-3, 0.34), (5.3e-3, 0.37), (5.0e-3, 0.40), (5.6e-3, 0.45), (5.1e-3, 0.52), (4.6e-3, 0.58),
    (6.0e-3, 0.03), (6.3e-3, 0.07), (5.9e-3, 0.12), (6.4e-3, 0.16), (6.1e-3, 0.19), (5.8e-3, 0.22),
    (6.5e-3, 0.25), (6.2e-3, 0.28), (6.0e-3, 0.30), (6.6e-3, 0.32), (6.3e-3, 0.35), (5.9e-3, 0.38),
    (6.4e-3, 0.41), (6.1e-3, 0.45), (6.5e-3, 0.50), (6.0e-3, 0.60),
    (7.5e-3, 0.01), (7.8e-3, 0.05), (8.2e-3, 0.10), (7.5e-3, 0.14), (8.4e-3, 0.18), (7.9e-3, 0.21),
    (8.1e-3, 0.24), (7.6e-3, 0.27), (8.3e-3, 0.30), (7.8e-3, 0.33), (8.6e-3, 0.36), (8.0e-3, 0.39),
    (7.7e-3, 0.42), (8.5e-3, 0.46), (8.1e-3, 0.50), (7.4e-3, 0.55), (8.8e-3, 0.61),
    (9.5e-3, 0.04), (1.0e-2, 0.09), (1.05e-2, 0.15), (9.8e-3, 0.20), (1.1e-2, 0.24), (9.6e-3, 0.28),
    (1.02e-2, 0.31), (1.08e-2, 0.34), (9.9e-3, 0.37), (1.04e-2, 0.40), (1.1e-2, 0.43), (9.7e-3, 0.47),
    (1.03e-2, 0.51), (1.06e-2, 0.57), (9.4e-3, 0.63),
    (1.25e-2, 0.02), (1.3e-2, 0.08), (1.35e-2, 0.13), (1.28e-2, 0.18), (1.32e-2, 0.23), (1.24e-2, 0.27),
    (1.38e-2, 0.31), (1.3e-2, 0.35), (1.27e-2, 0.39), (1.36e-2, 0.43), (1.31e-2, 0.48), (1.4e-2, 0.53),
    (1.26e-2, 0.58), (1.33e-2, 0.66),
    (1.6e-2, 0.06), (1.65e-2, 0.12), (1.58e-2, 0.17), (1.7e-2, 0.22), (1.62e-2, 0.27), (1.56e-2, 0.31),
    (1.68e-2, 0.36), (1.6e-2, 0.41), (1.66e-2, 0.46), (1.59e-2, 0.52), (1.7e-2, 0.58), (1.6e-2, 0.62),
    (2.0e-2, 0.04), (2.1e-2, 0.11), (1.95e-2, 0.18), (2.05e-2, 0.25), (2.15e-2, 0.31), (1.98e-2, 0.37),
    (2.08e-2, 0.43), (2.0e-2, 0.49), (2.12e-2, 0.56), (1.96e-2, 0.60), (2.2e-2, 0.68),
    (2.5e-2, 0.08), (2.6e-2, 0.15), (2.45e-2, 0.22), (2.55e-2, 0.29), (2.5e-2, 0.36), (2.65e-2, 0.42),
    (2.4e-2, 0.50), (2.58e-2, 0.57), (2.6e-2, 0.63),
    (3.0e-2, 0.05), (3.1e-2, 0.12), (2.95e-2, 0.19), (3.05e-2, 0.26), (3.2e-2, 0.33), (2.9e-2, 0.40),
    (3.0e-2, 0.47), (3.15e-2, 0.54), (3.3e-2, 0.61),
    (2.0e-3, 0.15), (2.6e-3, 0.17), (3.2e-3, 0.20), (3.6e-3, 0.19), (4.4e-3, 0.22), (4.6e-3, 0.26),
    (5.7e-3, 0.24), (6.8e-3, 0.27), (7.2e-3, 0.30), (2.4e-3, 0.12), (1.9e-3, 0.09), (2.7e-3, 0.14),
    (3.4e-3, 0.10), (4.5e-3, 0.18), (5.5e-3, 0.20), (1.5e-3, 0.06), (2.9e-3, 0.24), (3.8e-3, 0.26),
    (6.2e-3, 0.22), (7.0e-3, 0.34), (8.8e-3, 0.28), (1.15e-2, 0.32), (1.2e-2, 0.38), (9.0e-3, 0.35),
    (1.1e-3, 0.07), (1.2e-3, 0.13), (1.3e-3, 0.02), (1.4e-3, 0.18), (1.5e-3, 0.10), (1.6e-3, 0.22),
    (1.7e-3, 0.14), (1.8e-3, 0.04), (1.9e-3, 0.20), (2.0e-3, 0.11), (2.1e-3, 0.24), (2.2e-3, 0.16),
    (2.3e-3, 0.08), (2.4e-3, 0.19), (2.5e-3, 0.13), (2.6e-3, 0.22), (2.7e-3, 0.27), (2.8e-3, 0.11),
    (2.9e-3, 0.18), (3.0e-3, 0.23), (3.1e-3, 0.15), (3.2e-3, 0.27), (3.3e-3, 0.19), (3.4e-3, 0.08),
    (3.5e-3, 0.24), (3.6e-3, 0.16), (3.7e-3, 0.29), (3.8e-3, 0.21), (3.9e-3, 0.13), (4.0e-3, 0.25),
    (4.2e-3, 0.18), (4.4e-3, 0.30), (4.6e-3, 0.22), (4.8e-3, 0.15), (5.0e-3, 0.29), (5.2e-3, 0.24),
    (5.4e-3, 0.33), (5.6e-3, 0.19), (5.8e-3, 0.27), (6.0e-3, 0.35), (6.3e-3, 0.24), (6.6e-3, 0.30),
    (6.9e-3, 0.38), (7.2e-3, 0.27), (7.6e-3, 0.33), (8.0e-3, 0.42), (8.5e-3, 0.31), (9.0e-3, 0.38),
    (9.5e-3, 0.45), (1.0e-2, 0.34), (1.1e-2, 0.40), (1.2e-2, 0.46), (1.3e-2, 0.37), (1.45e-2, 0.43),
    (1.6e-3, 0.00), (2.0e-3, 0.03), (2.6e-3, 0.01), (3.2e-3, 0.05), (3.9e-3, 0.02), (4.5e-3, 0.06),
    (5.5e-3, 0.03), (6.8e-3, 0.08), (2.3e-3, 0.14), (2.8e-3, 0.20), (3.4e-3, 0.17), (4.1e-3, 0.21),
    (4.9e-3, 0.25), (5.9e-3, 0.28), (7.0e-3, 0.31), (3.0e-3, 0.10), (1.8e-3, 0.16), (1.4e-3, 0.12),
    (2.2e-3, 0.22), (3.6e-3, 0.27), (4.7e-3, 0.33), (6.4e-3, 0.37), (8.2e-3, 0.26), (9.8e-3, 0.22),
    (1.2e-2, 0.20), (1.5e-2, 0.26),
    (4.0e-2, 0.03), (4.2e-2, 0.10), (3.9e-2, 0.17), (4.5e-2, 0.23), (4.1e-2, 0.30), (4.3e-2, 0.38),
    (4.0e-2, 0.45), (4.6e-2, 0.53), (4.2e-2, 0.62), (5.0e-2, 0.06), (5.3e-2, 0.14), (4.9e-2, 0.20),
    (5.2e-2, 0.28), (5.5e-2, 0.36), (5.0e-2, 0.45), (6.0e-2, 0.02), (6.3e-2, 0.09), (5.9e-2, 0.16),
    (6.5e-2, 0.24), (6.2e-2, 0.40), (6.8e-2, 0.61), (7.0e-2, 0.69), (8.0e-2, 0.04), (8.3e-2, 0.12),
    (7.8e-2, 0.19), (8.5e-2, 0.26), (8.0e-2, 0.33), (8.8e-2, 0.42), (9.0e-2, 0.58), (1.0e-1, 0.01),
    (1.05e-1, 0.08), (9.7e-2, 0.15), (1.1e-1, 0.21), (1.0e-1, 0.35), (1.15e-1, 0.63), (1.2e-1, 0.80),
    (1.3e-1, 0.05), (1.35e-1, 0.11), (1.3e-1, 0.16), (1.4e-1, 0.22), (1.45e-1, 0.44), (1.6e-1, 0.02),
    (1.65e-1, 0.09), (1.6e-1, 0.16), (1.7e-1, 0.28), (1.8e-1, 0.62), (2.0e-1, 0.06), (2.1e-1, 0.13),
    (2.0e-1, 0.19), (2.2e-1, 0.41), (2.5e-1, 0.03), (2.6e-1, 0.10), (2.5e-1, 0.17), (2.7e-1, 0.29),
    (2.8e-1, 0.48), (3.0e-1, 0.08), (3.2e-1, 0.23), (3.5e-1, 0.52), (4.0e-1, 0.05), (4.2e-1, 0.14),
    (4.5e-1, 0.18), (5.0e-1, 0.08), (5.5e-1, 0.05), (6.0e-1, 0.55), (7.0e-1, 0.54), (7.5e-1, 0.51),
    (1.8e-1, 0.36), (2.3e-1, 0.25), (3.8e-1, 0.12),
]

# d) Simulated big skips
d_total = [
    (0.35, 0.28), (0.40, 0.33), (0.45, 0.38), (0.38, 0.43), (0.42, 0.26), (0.50, 0.30), (0.55, 0.35),
    (0.52, 0.40), (0.48, 0.46), (0.58, 0.50), (0.60, 0.27), (0.63, 0.32), (0.65, 0.37), (0.68, 0.42),
    (0.62, 0.45), (0.70, 0.48), (0.66, 0.53), (0.72, 0.58), (0.64, 0.63), (0.75, 0.30), (0.78, 0.35),
    (0.80, 0.38), (0.76, 0.40), (0.83, 0.43), (0.79, 0.45), (0.85, 0.47), (0.81, 0.50), (0.88, 0.52),
    (0.82, 0.55), (0.90, 0.58), (0.86, 0.61), (0.80, 0.66), (0.92, 0.28), (0.95, 0.33), (0.90, 0.36),
    (0.98, 0.39), (0.93, 0.42), (1.00, 0.44), (0.96, 0.46), (1.02, 0.49), (0.94, 0.51), (1.05, 0.54),
    (0.99, 0.56), (1.08, 0.59), (1.00, 0.62), (1.10, 0.45), (1.12, 0.35), (1.15, 0.40), (1.20, 0.48),
    (1.18, 0.52), (1.25, 0.55), (1.22, 0.58), (1.30, 0.61), (1.28, 0.64), (1.35, 0.67), (1.40, 0.50),
    (1.45, 0.55), (1.38, 0.59), (1.50, 0.62), (1.55, 0.47), (1.60, 0.57), (1.65, 0.66), (1.70, 0.42),
    (1.80, 0.60), (1.90, 0.53), (2.00, 0.64), (2.20, 0.58), (2.40, 0.68), (2.60, 0.61), (2.80, 0.50),
    (3.20, 0.67), (3.50, 0.55), (2.10, 0.47), (1.30, 0.38), (1.50, 0.33), (1.25, 0.30), (1.05, 0.37),
    (0.87, 0.34), (0.93, 0.38), (1.00, 0.35), (1.10, 0.42), (0.90, 0.45), (0.97, 0.40), (0.85, 0.48),
    (1.15, 0.60), (1.00, 0.58), (0.95, 0.55), (0.78, 0.52), (0.72, 0.44),
    (0.85, 0.40), (0.88, 0.44), (0.92, 0.36), (0.95, 0.48), (0.98, 0.43), (1.02, 0.38), (1.05, 0.46),
    (1.08, 0.52), (1.12, 0.56), (1.15, 0.50), (1.18, 0.44), (1.22, 0.62), (1.25, 0.47), (1.30, 0.55),
    (1.35, 0.58), (1.40, 0.61), (0.90, 0.60), (0.80, 0.57), (0.75, 0.46), (0.70, 0.52), (0.78, 0.42),
    (0.82, 0.33), (0.88, 0.30), (0.95, 0.26), (1.00, 0.30), (1.10, 0.28), (0.65, 0.40), (0.72, 0.35),
    (1.20, 0.66), (1.45, 0.64), (1.60, 0.62), (1.05, 0.64), (0.92, 0.50), (1.00, 0.53), (0.85, 0.55),
    (1.25, 0.42), (1.50, 0.52),
    (0.33, 0.15), (0.36, 0.20), (0.40, 0.17), (0.43, 0.22), (0.46, 0.27), (0.50, 0.19), (0.54, 0.24),
    (0.58, 0.21), (0.62, 0.16), (0.66, 0.25), (0.70, 0.20), (0.75, 0.23), (0.80, 0.27), (0.85, 0.18),
    (0.30, 0.24), (0.27, 0.27), (0.25, 0.18), (0.22, 0.20), (0.20, 0.21),
    (1.00, 0.10), (1.10, 0.05), (1.15, 0.14), (1.20, 0.08), (1.30, 0.02), (1.35, 0.12), (1.40, 0.17),
    (1.45, 0.06), (1.50, 0.10), (1.60, 0.13), (1.65, 0.03), (1.70, 0.08), (1.75, 0.19), (1.80, 0.11),
    (1.85, 0.06), (1.90, 0.15), (1.95, 0.09), (2.00, 0.04), (2.05, 0.12), (2.10, 0.07), (2.15, 0.10),
    (2.20, 0.18), (2.25, 0.05), (2.30, 0.09), (2.35, 0.13), (2.40, 0.08), (2.45, 0.11), (2.50, 0.06),
    (2.55, 0.10), (2.60, 0.15), (2.65, 0.08), (2.70, 0.12), (2.75, 0.03), (2.80, 0.09), (2.85, 0.07),
    (2.90, 0.11), (2.95, 0.14), (3.00, 0.08), (3.05, 0.10), (3.10, 0.05), (3.15, 0.12), (3.20, 0.09),
    (3.25, 0.07), (3.30, 0.20), (3.40, 0.11), (3.50, 0.06), (3.60, 0.09), (3.70, 0.13), (3.80, 0.08),
    (3.90, 0.04), (4.00, 0.10), (4.20, 0.15), (4.40, 0.07), (4.60, 0.11), (4.80, 0.09), (5.00, 0.05),
    (5.20, 0.13), (5.50, 0.08), (5.80, 0.11), (6.00, 0.17), (6.30, 0.07), (6.60, 0.10), (7.00, 0.13),
    (7.50, 0.05), (8.00, 0.09), (8.50, 0.16), (9.00, 0.07), (10.0, 0.11), (11.0, 0.05), (12.0, 0.13),
    (14.0, 0.08), (16.0, 0.06), (18.0, 0.18), (20.0, 0.05), (24.0, 0.16), (25.0, 0.17), (22.0, 0.04),
    (2.10, 0.09), (2.30, 0.11), (2.50, 0.08), (2.60, 0.07), (2.70, 0.10), (2.90, 0.09), (3.00, 0.06),
    (3.10, 0.11), (3.30, 0.08), (3.50, 0.10), (3.70, 0.07), (2.40, 0.12), (2.80, 0.13), (3.20, 0.12),
    (2.20, 0.06), (2.00, 0.10), (3.40, 0.05), (4.00, 0.08), (2.60, 0.11), (2.90, 0.05),
    (2.20, 0.10), (2.40, 0.07), (2.60, 0.09), (2.80, 0.06), (3.00, 0.10), (3.20, 0.08), (3.40, 0.09),
    (2.50, 0.13), (2.90, 0.12), (3.30, 0.11), (3.60, 0.12), (2.70, 0.04), (3.10, 0.03), (2.30, 0.14),
    (1.80, 0.08), (4.20, 0.09), (4.60, 0.06), (3.90, 0.11), (2.00, 0.13), (1.60, 0.09),
    (1.30, 0.22), (1.90, 0.21), (2.50, 0.24), (3.00, 0.19), (3.80, 0.23), (4.50, 0.20), (5.50, 0.25),
    (6.50, 0.21), (1.10, 0.19), (7.50, 0.23),
    (1.05, 0.00), (1.60, 0.01), (2.20, 0.00), (3.50, 0.01), (4.50, 0.02),
    (0.011, 0.17), (0.033, 0.28), (0.042, 0.27), (0.040, 0.23), (0.060, 0.36), (0.062, 0.38),
    (0.075, 0.63), (0.085, 0.47), (0.090, 0.49), (0.100, 0.59), (0.105, 0.62), (0.110, 0.53),
    (0.115, 0.48), (0.120, 0.42), (0.130, 0.46), (0.145, 0.44), (0.150, 0.66), (0.170, 0.50),
    (0.190, 0.62), (0.200, 0.64), (0.230, 0.75), (0.250, 0.36), (0.270, 0.34), (0.300, 0.40),
    (0.330, 0.35), (0.300, 0.57), (0.400, 0.56), (0.500, 0.75), (0.560, 0.77), (1.20, 0.75),
    (2.10, 0.73), (2.20, 0.76), (3.20, 0.79), (0.070, 0.21), (0.075, 0.04), (0.090, 0.07),
    (0.110, 0.00), (0.140, 0.00), (0.190, 0.11), (0.200, 0.06), (0.210, 0.15), (0.230, 0.17),
    (0.300, 0.08), (0.330, 0.10), (0.350, 0.00), (0.420, 0.09), (0.600, 0.12), (0.700, 0.03),
    (0.500, 0.14), (0.400, 0.47), (0.450, 0.51), (0.060, 0.17), (0.260, 0.31), (1.40, 0.72),
    (1.60, 0.69), (3.50, 0.67), (4.50, 0.57), (6.60, 0.41), (5.50, 0.41), (7.50, 0.58), (3.50, 0.51),
    (3.00, 0.38), (5.00, 0.30), (4.00, 0.29), (6.00, 0.62), (2.50, 0.33), (3.00, 0.26), (1.90, 0.29),
]

ORANGE = "darkorange"
BG = "#EAEAF2"

plt.rcParams["font.family"] = ["Liberation Sans", "DejaVu Sans"]
plt.rcParams["mathtext.fontset"] = "cm"


def decade_label(val, pos):
    return r"$\mathregular{10^{%d}}$" % int(round(np.log10(val)))


def style_axes(ax, xmin, xmax, title):
    ax.set_facecolor(BG)
    for sp in ax.spines.values():
        sp.set_visible(False)
    ax.set_xscale("log")
    ax.set_xlim(10.0 ** xmin, 10.0 ** xmax)
    ax.set_ylim(0, 1)
    ax.xaxis.set_major_locator(FixedLocator([10.0 ** e for e in range(xmin, xmax + 1)]))
    ax.xaxis.set_major_formatter(FuncFormatter(decade_label))
    ax.xaxis.set_minor_locator(NullLocator())
    ax.set_yticks([0.0, 0.2, 0.4, 0.6, 0.8, 1.0])
    ax.set_yticklabels(["0.0", "0.2", "0.4", "0.6", "0.8", "1.0"])
    ax.grid(True, color="white", linewidth=1.0)
    ax.set_axisbelow(True)
    ax.tick_params(length=0, labelsize=14.5, colors="#333333")
    ax.tick_params(axis="x", pad=9)
    ax.tick_params(axis="y", pad=5)
    ax.set_title(title, fontsize=15.5, color="#262626", pad=19)
    ax.set_xlabel(r"$D\ [\mu\mathrm{m}^2/\mathrm{s}]$", fontsize=21, labelpad=5)
    ax.set_ylabel(r"$S_{\mathrm{MSS}}$", fontsize=21, labelpad=4)


def scatter(ax, pts, color, alpha):
    arr = np.array(pts)
    ax.scatter(arr[:, 0], arr[:, 1], s=22, color=color, alpha=alpha,
               linewidths=1.0, edgecolors="face")


def add_legend(ax, handles):
    ax.legend(handles=handles, loc="upper left", frameon=False, fontsize=15,
              handlelength=2.1, handleheight=0.85, borderaxespad=0.6, labelspacing=0.45)


fig = plt.figure(figsize=(10.21, 10.95), dpi=100)
ax_a = fig.add_axes([0.091, 0.573, 0.375, 0.356])
ax_b = fig.add_axes([0.606, 0.573, 0.375, 0.356])
ax_c = fig.add_axes([0.091, 0.073, 0.375, 0.356])
ax_d = fig.add_axes([0.606, 0.073, 0.375, 0.356])

total_handle = [mpatches.Patch(color=ORANGE, alpha=0.4, label="Total")]

# a)
style_axes(ax_a, -5, 2, "H2B initial tracking")
scatter(ax_a, a_total, ORANGE, 0.25)
add_legend(ax_a, total_handle)

# b)
style_axes(ax_b, -5, 2, "H2B initial tracking")
scatter(ax_b, b_immobile, "gray", 0.15)
scatter(ax_b, b_slow, "blue", 0.08)
scatter(ax_b, b_fast, "red", 0.07)
add_legend(ax_b, [
    mpatches.Patch(color="red", alpha=0.45, label="Fast tracklets"),
    mpatches.Patch(color="blue", alpha=0.45, label="Slow tracklets"),
    mpatches.Patch(color="gray", alpha=0.6, label="Immobile tracklets"),
])

# c)
style_axes(ax_c, -5, 2, "H2B adjusted parameters")
scatter(ax_c, c_total, ORANGE, 0.25)
add_legend(ax_c, total_handle)

# d)
style_axes(ax_d, -2, 2, "Simulated big skips")
scatter(ax_d, d_total, ORANGE, 0.25)
add_legend(ax_d, total_handle)

for x, y, letter in [(0.008, 0.988, "a)"), (0.522, 0.988, "b)"),
                     (0.008, 0.498, "c)"), (0.522, 0.498, "d)")]:
    fig.text(x, y, letter, fontsize=26, color="#262626", va="top", ha="left")

fig.savefig("out.png", dpi=100)
